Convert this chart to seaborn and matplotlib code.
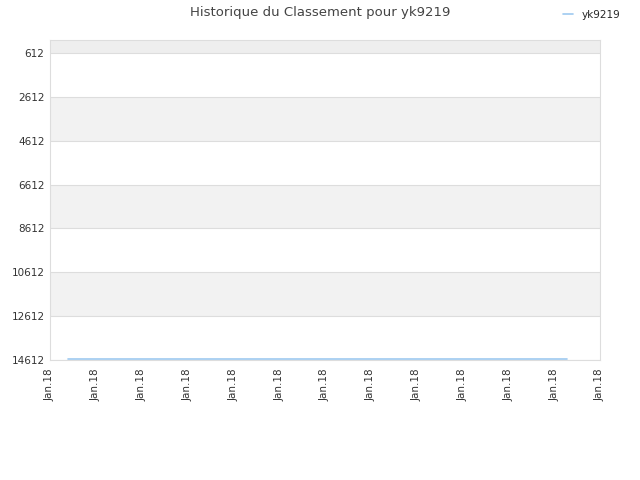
import pandas as pd
import numpy as np
import matplotlib
matplotlib.use("Agg")
import matplotlib.pyplot as plt
import seaborn as sns

# rank history for yk9219 (all in January 2018)
dates = ["2018-01-02 00:00", "2018-01-08 00:00", "2018-01-15 00:00", "2018-01-22 00:00", "2018-01-29 05:00"]
ranks = [14565, 14565, 14565, 14565, 14565]
player = "yk9219"
y_ticks = [612, 2612, 4612, 6612, 8612, 10612, 12612, 14612]

df = pd.DataFrame({"date": pd.to_datetime(dates), "rank": ranks, "player": player})

sns.set_style("white")
plt.rcParams['font.family'] = ['DejaVu Sans']

fig = plt.figure(figsize=(6.4, 4.8), dpi=100)
ax = fig.add_axes([50 / 640, 1 - 360 / 480, 550 / 640, 320 / 480])

# alternating bands
ax.axhspan(19, 612, color="#eeeeee", zorder=0, lw=0)
for i in range(1, len(y_ticks) - 1, 2):
    ax.axhspan(y_ticks[i], y_ticks[i + 1], color="#f2f2f2", zorder=0, lw=0)
for t in y_ticks:
    ax.axhline(t, color="#dddddd", lw=0.8, zorder=1)

sns.lineplot(data=df, x="date", y="rank", hue="player", palette=["#9ec9f0"],
             lw=1.2, ax=ax, zorder=3)

ax.set_ylim(14612, 19)
ax.set_yticks(y_ticks)
ax.set_yticklabels([str(t) for t in y_ticks])

x0 = pd.Timestamp("2018-01-01")
x1 = pd.Timestamp("2018-01-31")
ax.set_xlim(x0, x1)
xt = [x0 + (x1 - x0) * i / 12 for i in range(13)]
ax.set_xticks(xt)
ax.set_xticklabels(["Jan.18"] * 13, rotation=90)

ax.tick_params(axis="both", labelsize=7.5, colors="#333333", length=0, pad=4)
ax.tick_params(axis="x", pad=6)
for s in ax.spines.values():
    s.set_color("#dddddd")
    s.set_linewidth(0.8)
ax.set_xlabel("")
ax.set_ylabel("")

fig.suptitle("Historique du Classement pour yk9219", fontsize=9.5, color="#444444", y=0.988)
ax.legend(loc="upper right", bbox_to_anchor=(1.054, 1.123), frameon=False,
          fontsize=7.5, handlelength=1.0, handletextpad=0.8)

fig.savefig("out.png", dpi=100)
